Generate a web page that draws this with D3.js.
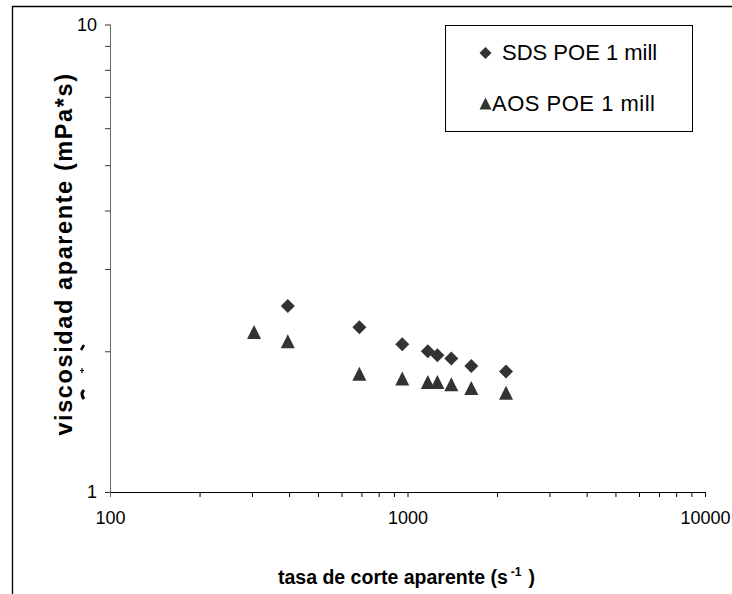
<!DOCTYPE html>
<html>
<head>
<meta charset="utf-8">
<script src="https://cdn.jsdelivr.net/npm/d3@7"></script>
<style>
  html, body { margin: 0; padding: 0; background: #fff; }
  svg { display: block; font-family: "Liberation Sans", Arial, sans-serif; }
</style>
</head>
<body>
<svg id="chart" width="732" height="594"></svg>
<script>
// ---- data ----
const sdsShear = [396, 689, 960, 1170, 1260, 1404, 1639, 2143];
const sdsVisc  = [2.50, 2.25, 2.07, 2.00, 1.96, 1.93, 1.86, 1.81];
const aosShear = [305, 396, 689, 960, 1170, 1260, 1404, 1639, 2143];
const aosVisc  = [2.20, 2.10, 1.79, 1.75, 1.72, 1.72, 1.70, 1.67, 1.63];
const seriesNames = ["SDS POE 1 mill", "AOS POE 1 mill"];
const xTickLabels = [100, 1000, 10000];
const yTickLabels = [1, 10];
const xTitle = "tasa de corte aparente (s";
const xTitleSup = "-1";
const yTitle = "viscosidad aparente (mPa*s)";

const svg = d3.select("#chart");
const markColor = "#333333";

// outer frame (left and top edges visible)
svg.append("path")
  .attr("d", "M12.5,594 L12.5,6.5 L732,6.5")
  .attr("fill", "none").attr("stroke", "#000").attr("stroke-width", 1.3);

const x = d3.scaleLog().domain([100, 10000]).range([110, 705]);
const y = d3.scaleLog().domain([1, 10]).range([492, 24.5]);

function minorTicks(lo, hi) {
  const t = [];
  for (let d = lo; d < hi; d *= 10) for (let k = 1; k < 10; k++) t.push(d * k);
  t.push(hi);
  return t;
}

// x axis
const xAxis = d3.axisBottom(x)
  .tickValues(minorTicks(100, 10000))
  .tickSize(5)
  .tickPadding(14)
  .tickFormat(d => xTickLabels.includes(d) ? String(d) : "");
const gx = svg.append("g").attr("transform", "translate(0,492)").call(xAxis);
gx.select(".domain").attr("d", "M106,0.5H705").attr("stroke", "#000");
gx.selectAll(".tick line").attr("stroke", "#000");
gx.selectAll(".tick text").attr("font-size", 18).attr("fill", "#000")
  .attr("font-family", "Liberation Sans, Arial, sans-serif");

// y axis
const yAxis = d3.axisLeft(y)
  .tickValues(minorTicks(1, 10))
  .tickSize(5)
  .tickPadding(8)
  .tickFormat(d => yTickLabels.includes(d) ? String(d) : "");
const gy = svg.append("g").attr("transform", "translate(110,0)").call(yAxis);
gy.select(".domain").attr("d", "M0.5,24.5V497").attr("stroke", "#666");
gy.selectAll(".tick line").attr("stroke", "#333");
gy.selectAll(".tick text").attr("font-size", 18).attr("fill", "#000")
  .attr("font-family", "Liberation Sans, Arial, sans-serif");

// axis titles
const xt = svg.append("text")
  .attr("x", 278).attr("y", 584)
  .attr("text-anchor", "start")
  .attr("font-size", 19.5).attr("font-weight", "bold").attr("fill", "#000");
xt.append("tspan").text(xTitle);
xt.append("tspan").attr("font-size", 12).attr("dy", -8).attr("dx", 3).text(xTitleSup);
xt.append("tspan").attr("dy", 8).attr("dx", 7).text(")");

svg.append("text")
  .attr("transform", "translate(72,254) rotate(-90)")
  .attr("text-anchor", "middle")
  .attr("font-size", 23.5).attr("font-weight", "bold").attr("fill", "#000")
  .attr("letter-spacing", 1.6)
  .text(yTitle);

// small stray glyph fragments beside the y axis
svg.append("path").attr("d", "M84,345 L81,350").attr("stroke", "#000").attr("stroke-width", 2.5);
svg.append("path").attr("d", "M82,368 L82,373 M80,370.5 L84,370.5").attr("stroke", "#000").attr("stroke-width", 1.2);
svg.append("path").attr("d", "M84,390 Q80,394 84,399").attr("fill", "none").attr("stroke", "#000").attr("stroke-width", 3);

// markers
function diamondPath(s) { const h = s / 2; return `M0,${-h}L${h},0L0,${h}L${-h},0Z`; }
function trianglePath(s) { const h = s / 2; return `M0,${-h}L${h},${h}L${-h},${h}Z`; }

const sds = sdsShear.map((v, i) => ({ x: v, y: sdsVisc[i] }));
const aos = aosShear.map((v, i) => ({ x: v, y: aosVisc[i] }));

svg.append("g").selectAll("path").data(sds).join("path")
  .attr("d", diamondPath(14))
  .attr("transform", d => `translate(${x(d.x)},${y(d.y)})`)
  .attr("fill", markColor);

svg.append("g").selectAll("path").data(aos).join("path")
  .attr("d", trianglePath(14))
  .attr("transform", d => `translate(${x(d.x)},${y(d.y)})`)
  .attr("fill", markColor);

// legend
const lg = svg.append("g");
lg.append("rect").attr("x", 445.5).attr("y", 25.5).attr("width", 247).attr("height", 106)
  .attr("fill", "#fff").attr("stroke", "#000").attr("stroke-width", 1);
lg.append("path").attr("d", diamondPath(12)).attr("transform", "translate(485.5,53)").attr("fill", markColor);
lg.append("path").attr("d", trianglePath(12)).attr("transform", "translate(485.5,103.5)").attr("fill", markColor);
lg.append("text").attr("x", 502).attr("y", 60).attr("font-size", 22).attr("fill", "#000").text(seriesNames[0]);
lg.append("text").attr("x", 492).attr("y", 110.5).attr("font-size", 22).attr("letter-spacing", 0.5)
  .attr("fill", "#000").text(seriesNames[1]);
</script>
</body>
</html>
